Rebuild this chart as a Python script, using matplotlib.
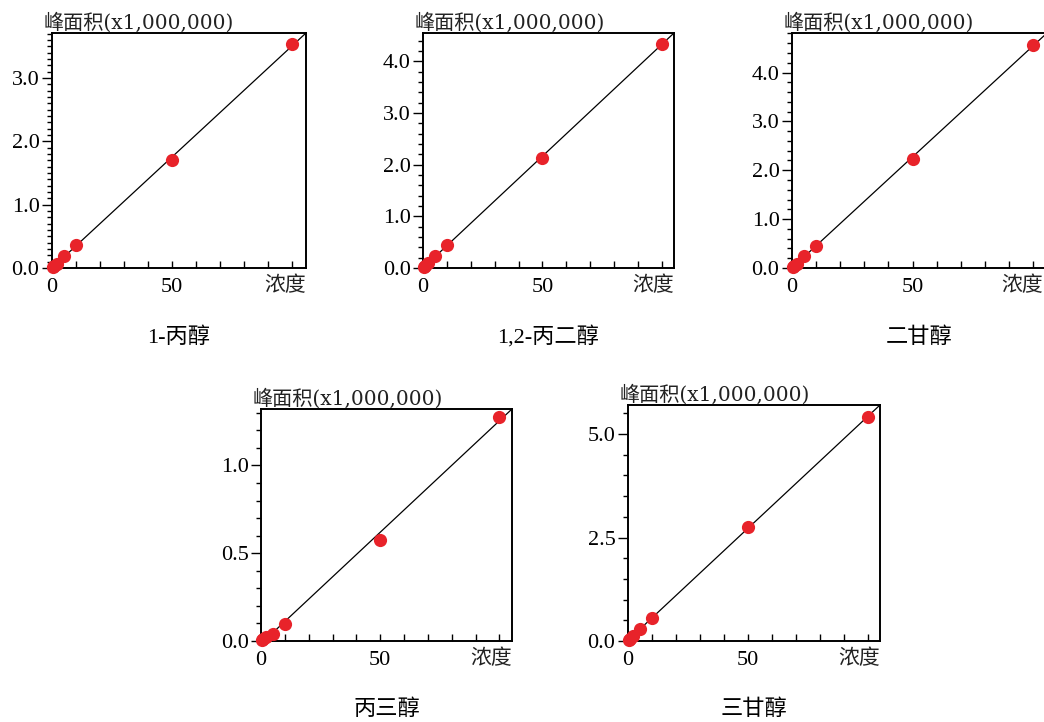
import numpy as np
import matplotlib
matplotlib.use('Agg')
import matplotlib.pyplot as plt
from matplotlib.ticker import MultipleLocator, FormatStrFormatter

# =============================
# FUENTES
# =============================
FUENTES = ['Liberation Serif', 'Noto Sans CJK SC']
FUENTES_ETIQUETA = ['DejaVu Serif', 'Noto Sans CJK SC']
plt.rcParams['font.family'] = FUENTES

# =============================
# DATOS (concentracion vs area de pico, x1,000,000)
# =============================
nongdu = [0.5, 1, 2, 5, 10, 50, 100]
nombres = ["1-丙醇", "1,2-丙二醇", "二甘醇", "丙三醇", "三甘醇"]

area_1_propanol = [0.018, 0.036, 0.071, 0.19, 0.356, 1.705, 3.53]
area_propilenglicol = [0.022, 0.044, 0.088, 0.225, 0.44, 2.13, 4.34]
area_dietilenglicol = [0.023, 0.046, 0.092, 0.24, 0.46, 2.24, 4.56]
area_glicerol = [0.005, 0.01, 0.02, 0.042, 0.099, 0.578, 1.276]
area_trietilenglicol = [0.03, 0.06, 0.12, 0.30, 0.566, 2.76, 5.42]

areas = [area_1_propanol, area_propilenglicol, area_dietilenglicol,
         area_glicerol, area_trietilenglicol]

# escala del eje y (mayor, menor)
paso_mayor = [1.0, 1.0, 1.0, 0.5, 2.5]
paso_menor = [0.1, 0.2, 0.2, 0.1, 0.5]
x_max = [105.8, 105.1, 105.8, 105.3, 104.9]

# =============================
# POSICIONES (pixeles: izq, arriba, der, abajo)
# =============================
W, H = 1044, 722
cajas = [
    (52, 33, 306, 268),
    (423, 33, 674, 268),
    (792, 33, 1047, 268),
    (261, 409, 512, 641),
    (628, 405, 880, 641),
]

fig = plt.figure(figsize=(W / 100, H / 100), dpi=100)

for i in range(5):
    l, t, r, b = cajas[i]
    ax = fig.add_axes([l / W, 1 - b / H, (r - l) / W, (b - t) / H])

    x = np.array(nongdu)
    y = np.array(areas[i])
    k, c = np.polyfit(x, y, 1)
    xs = np.array([0, x_max[i]])
    ax.plot(xs, k * xs + c, color='black', lw=0.9, zorder=2)
    ax.plot(x, y, 'o', color='#e8232a', ms=9.5, mec='none', zorder=3,
            clip_on=False)

    ax.set_xlim(0, x_max[i])
    ax.set_ylim(0, k * x_max[i] + c)

    # eje x: marcas hacia dentro
    ax.set_xticks([0, 50, 100])
    ax.set_xticklabels(["0", "50", ""])
    ax.xaxis.set_minor_locator(MultipleLocator(10))
    ax.tick_params(axis='x', which='both', direction='in', length=5,
                   width=1, labelsize=16, pad=7)

    # eje y: marcas hacia fuera
    ax.yaxis.set_major_locator(MultipleLocator(paso_mayor[i]))
    ax.yaxis.set_minor_locator(MultipleLocator(paso_menor[i]))
    ax.yaxis.set_major_formatter(FormatStrFormatter('%.1f'))
    ax.tick_params(axis='y', which='major', direction='out', length=7,
                   width=1, labelsize=16, pad=2)
    ax.tick_params(axis='y', which='minor', direction='out', length=3.5,
                   width=1)

    for s in ax.spines.values():
        s.set_linewidth(1.4)

    ax.text(-8 / (r - l), 1, "峰面积(x1,000,000)", transform=ax.transAxes,
            ha='left', va='bottom', fontsize=14.5, color='#222222',
            family=FUENTES_ETIQUETA)
    # el ultimo panel queda cortado por el borde de la figura
    x_texto = (min(r, W - 1) - l) / (r - l)
    ax.text(x_texto, -9 / (b - t), "浓度", transform=ax.transAxes,
            ha='right', va='top', fontsize=15, color='#222222')

    y_titulo = 338 if i < 3 else 710
    fig.text(((l + min(r, W + 2)) / 2) / W, 1 - y_titulo / H, nombres[i],
             ha='center', va='center', fontsize=16)

plt.savefig("out.png", dpi=100)
